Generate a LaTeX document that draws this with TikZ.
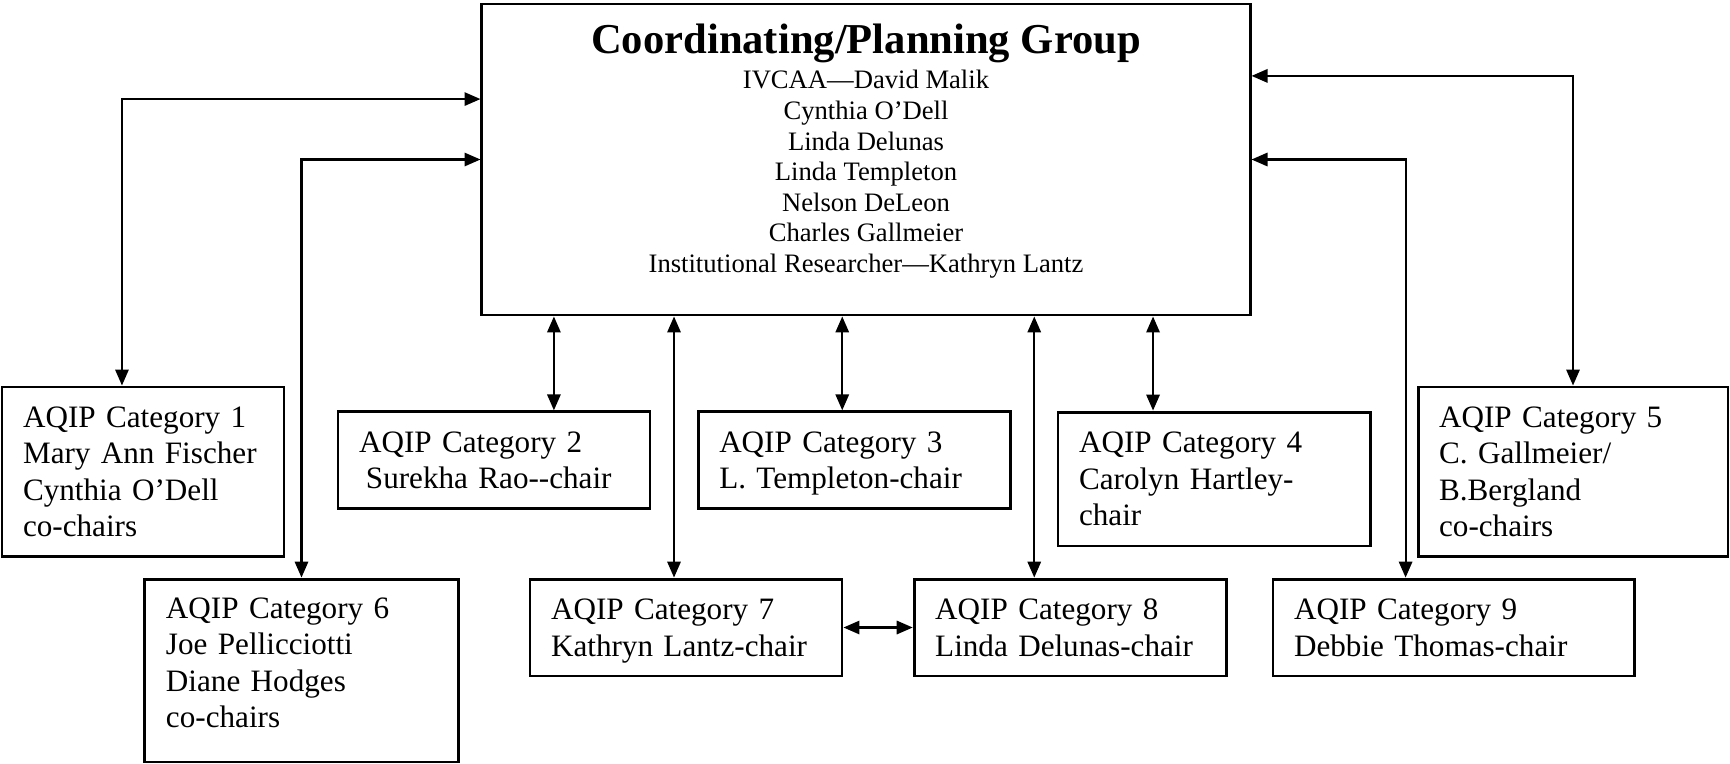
\documentclass[tikz,border=0pt]{standalone}
\usepackage{fontspec}
\setmainfont{Liberation Serif}
\usetikzlibrary{arrows.meta, positioning}

\begin{document}
\begin{tikzpicture}[
    x=0.3756pt, y=-0.3756pt,
    group/.style={rectangle, draw=black, line width=1.1pt, minimum width=288.5pt, minimum height=116.8pt, inner sep=0pt},
    cat/.style={rectangle, draw=black, line width=1.1pt, align=left, text width=101.4pt, minimum height=36.2pt, inner xsep=7.9pt, inner ysep=0pt, font=\fontsize{11.7}{13.7}\selectfont,
        execute at begin node={\rule{0pt}{10.75pt}}, execute at end node={\rule[-3pt]{0pt}{3pt}}},
    arrow/.style={{Triangle[length=6pt, width=5pt]}-{Triangle[length=6pt, width=5pt]}, line width=0.8pt}
]
\useasboundingbox (0,0) rectangle (1730,763);

% Planning group at the top
\node[group] (cpg) at (866,159.5) {};
\node[anchor=base, font=\fontsize{16}{19}\selectfont\bfseries] (title) at (866,53) {Coordinating/Planning Group};
\node[anchor=north, align=center, inner sep=0pt, font=\fontsize{10}{11.5}\selectfont] (members) at (866,69.8) {IVCAA—David Malik\\Cynthia O’Dell\\Linda Delunas\\Linda Templeton\\Nelson DeLeon\\Charles Gallmeier\\Institutional Researcher—Kathryn Lantz};

% Upper row of categories
\node[cat, text width=90.1pt, minimum height=63.5pt] (cat1) at (143,471.5) {AQIP Category 1\\Mary Ann Fischer\\Cynthia O’Dell\\co-chairs};
\node[cat] (cat2) at (494,460) {AQIP Category 2\\\hspace*{2.6pt}Surekha Rao-{}-chair};
\node[cat, right=17pt of cat2] (cat3) {AQIP Category 3\\L. Templeton-chair};
\node[cat, minimum height=50.3pt] (cat4) at (1214,479) {AQIP Category 4\\Carolyn Hartley-\\chair};
\node[cat, text width=100.6pt, minimum height=63.5pt] (cat5) at (1573,471.5) {AQIP Category 5\\C. Gallmeier/\\B.Bergland\\co-chairs};

% Lower row of categories
\node[cat, text width=101.8pt, minimum height=68.7pt] (cat6) at (301.5,670.5) {AQIP Category 6\\Joe Pellicciotti\\Diane Hodges\\co-chairs\rule[-9pt]{0pt}{9pt}};
\node[cat, minimum height=36.4pt] (cat7) at (686,627.5) {AQIP Category 7\\Kathryn Lantz-chair};
\node[cat, minimum height=36.4pt, right=26pt of cat7] (cat8) {AQIP Category 8\\Linda Delunas-chair};
\node[cat, text width=119.8pt, minimum height=36.4pt] (cat9) at (1453.5,627.5) {AQIP Category 9\\Debbie Thomas-chair};

% Side arrows
\draw[arrow] ([xshift=-7.9pt]cat1.north) |- ([yshift=22.7pt]cpg.west);
\draw[arrow] (cat6.north) |- (cpg.west);
\draw[arrow] (cat5.north) |- ([yshift=31.4pt]cpg.east);
\draw[arrow] ([xshift=-18pt]cat9.north) |- (cpg.east);

% Arrows below the group
\draw[arrow] ([xshift=22.5pt]cat2.north) -- ([xshift=22.5pt]cat2.north |- cpg.south);
\draw[arrow] ([xshift=-4.5pt]cat7.north) -- ([xshift=-4.5pt]cat7.north |- cpg.south);
\draw[arrow] ([xshift=-4.5pt]cat3.north) -- ([xshift=-4.5pt]cat3.north |- cpg.south);
\draw[arrow] ([xshift=-13.5pt]cat8.north) -- ([xshift=-13.5pt]cat8.north |- cpg.south);
\draw[arrow] ([xshift=-22.9pt]cat4.north) -- ([xshift=-22.9pt]cat4.north |- cpg.south);
\draw[arrow] (cat7) -- (cat8);

\end{tikzpicture}
\end{document}
